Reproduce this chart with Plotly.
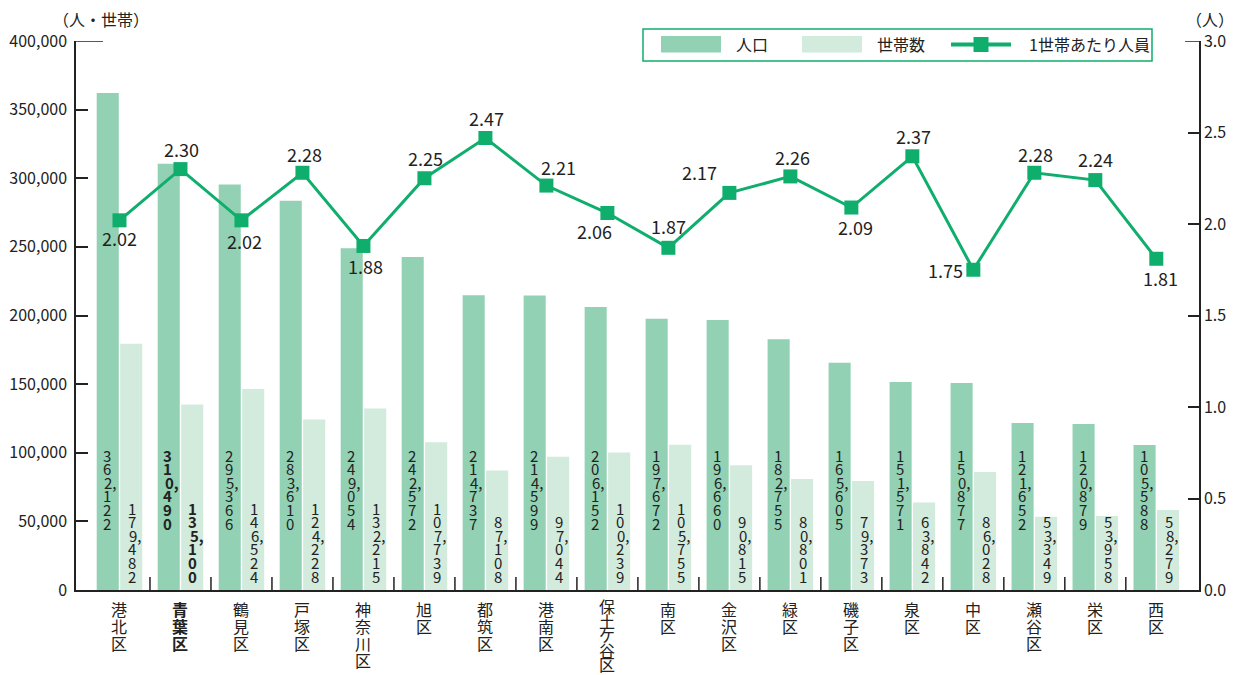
import plotly.graph_objects as go

# ---------------- data ----------------
wards = ["港北区", "青葉区", "鶴見区", "戸塚区", "神奈川区", "旭区", "都筑区", "港南区", "保土ケ谷区",
         "南区", "金沢区", "緑区", "磯子区", "泉区", "中区", "瀬谷区", "栄区", "西区"]
population = [362122, 310490, 295366, 283610, 249054, 242572, 214737, 214599, 206152,
              197672, 196660, 182755, 165605, 151571, 150877, 121652, 120879, 105588]
households = [179482, 135100, 146524, 124228, 132215, 107739, 87108, 97044, 100239,
              105755, 90815, 80801, 79373, 63842, 86028, 53349, 53958, 58279]
persons_per_household = [2.02, 2.30, 2.02, 2.28, 1.88, 2.25, 2.47, 2.21, 2.06,
                         1.87, 2.17, 2.26, 2.09, 2.37, 1.75, 2.28, 2.24, 1.81]
left_ticks = [0, 50000, 100000, 150000, 200000, 250000, 300000, 350000, 400000]
right_ticks = [0.0, 0.5, 1.0, 1.5, 2.0, 2.5, 3.0]
highlight_ward = "青葉区"
series_names = ["人口", "世帯数", "1世帯あたり人員"]
left_unit = "（人・世帯）"
right_unit = "（人）"

# ---------------- style / layout constants ----------------
# The page body adds an 8px margin; the figure is sized/offset to compensate.
PAGE_OFF = 8
SCREEN_W, SCREEN_H = 1242, 675
W, H = SCREEN_W - PAGE_OFF, SCREEN_H - PAGE_OFF
# plot area in screen pixels
PL, PR, PT, PB = 76, 1199, 41, 590
ML, MT = PL - PAGE_OFF, PT - PAGE_OFF
MR, MB = SCREEN_W - PR, SCREEN_H - PB
PW, PH = PR - PL, PB - PT
FONT = "Noto Sans CJK JP"
C_POP = "#92d1b3"
C_HH = "#d2ebdd"
C_LINE = "#0fae6c"
TXT = "#222222"
AX = "#222222"

# label offsets for the ratio labels (dx, dy in px; dy positive = downward)
ratio_label_offsets = [(0, 18), (1, -20), (3, 21), (2, -19), (2, 20), (1, -20), (1, -20),
                       (12, -19), (-13, 18), (0, -22), (-30, -21), (2, -19), (4, 19),
                       (1, -20), (-28, 0), (1, -19), (0, -21), (4, 19)]


def px2x(px):
    return (px - PL) / PW


def py2y(py):
    return (PB - py) / PH


n = len(wards)
idx = list(range(n))

fig = go.Figure()
fig.add_trace(go.Bar(x=idx, y=population, name=series_names[0], marker_color=C_POP,
                     marker_line_width=0, showlegend=False))
fig.add_trace(go.Bar(x=idx, y=households, name=series_names[1], marker_color=C_HH,
                     marker_line_width=0, showlegend=False))
fig.add_trace(go.Scatter(x=idx, y=persons_per_household, yaxis="y2", mode="lines+markers",
                         name=series_names[2], line=dict(color=C_LINE, width=3),
                         marker=dict(symbol="square", size=14, color=C_LINE),
                         showlegend=False))

annotations = []
shapes = []

DIGIT_W = 8.4     # approx advance of a digit at size 15


def add_vertical_number(i, value, xshift, top_py=None, bottom_py=None, bold=False):
    s = f"{value:,}"
    lines = []
    for ch in s:
        if ch == "," and lines:
            lines[-1] = lines[-1] + ","
        else:
            lines.append(ch)
    pitch = 13.6
    if top_py is not None:
        centers = [top_py + 6 + k * pitch for k in range(len(lines))]
    else:
        centers = [bottom_py - 6 - (len(lines) - 1 - k) * pitch for k in range(len(lines))]
    for line, cy in zip(lines, centers):
        txt = f"<b>{line}</b>" if bold else line
        if line.endswith(","):
            annotations.append(dict(x=i, y=0, xref="x", yref="y", text=txt, showarrow=False,
                                    xshift=xshift - DIGIT_W / 2, yshift=PB - cy,
                                    xanchor="left", yanchor="middle", borderpad=0,
                                    font=dict(family=FONT, size=15, color=TXT)))
        else:
            annotations.append(dict(x=i, y=0, xref="x", yref="y", text=txt, showarrow=False,
                                    xshift=xshift, yshift=PB - cy, xanchor="center",
                                    yanchor="middle", borderpad=0,
                                    font=dict(family=FONT, size=15, color=TXT)))


for i, w in enumerate(wards):
    bold = (w == highlight_ward)
    add_vertical_number(i, population[i], -12.5, top_py=449, bold=bold)
    add_vertical_number(i, households[i], 12.5, bottom_py=582, bold=bold)
    # vertical category label
    pitch = 14.5 if len(w) >= 5 else 17
    first = 606 if len(w) >= 5 else 609
    for k, ch in enumerate(w):
        cy = first + k * pitch
        txt = f"<b>{ch}</b>" if bold else ch
        annotations.append(dict(x=i, y=0, xref="x", yref="y", text=txt, showarrow=False,
                                xshift=0, yshift=PB - cy, xanchor="center",
                                yanchor="middle", borderpad=0,
                                font=dict(family=FONT, size=16, color=TXT)))
    # ratio label
    dx, dy = ratio_label_offsets[i]
    annotations.append(dict(x=i, y=persons_per_household[i], xref="x", yref="y2",
                            text=f"{persons_per_household[i]:.2f}", showarrow=False,
                            xshift=dx, yshift=-dy, xanchor="center", yanchor="middle",
                            font=dict(family=FONT, size=18, color=TXT)))

# category boundary ticks (inside, upward)
for i in range(n - 1):
    shapes.append(dict(type="line", xref="x", yref="paper", x0=i + 0.5, x1=i + 0.5,
                       y0=0, y1=13 / PH, line=dict(color=AX, width=1.5)))

# longer top ticks
shapes.append(dict(type="line", xref="paper", yref="y", x0=0, x1=px2x(103),
                   y0=left_ticks[-1], y1=left_ticks[-1], line=dict(color=AX, width=1.5)))
shapes.append(dict(type="line", xref="paper", yref="y2", x0=px2x(1185), x1=1,
                   y0=right_ticks[-1], y1=right_ticks[-1], line=dict(color=AX, width=1.5)))

# manual legend
shapes.append(dict(type="rect", xref="paper", yref="paper", x0=px2x(643), x1=px2x(1152),
                   y0=py2y(61), y1=py2y(29), line=dict(color=C_LINE, width=1.5),
                   fillcolor="white", layer="below"))
shapes.append(dict(type="rect", xref="paper", yref="paper", x0=px2x(661), x1=px2x(721),
                   y0=py2y(52.5), y1=py2y(36), line=dict(width=0), fillcolor=C_POP))
shapes.append(dict(type="rect", xref="paper", yref="paper", x0=px2x(802), x1=px2x(862),
                   y0=py2y(52.5), y1=py2y(36), line=dict(width=0), fillcolor=C_HH))
shapes.append(dict(type="line", xref="paper", yref="paper", x0=px2x(951), x1=px2x(1011),
                   y0=py2y(44.5), y1=py2y(44.5), line=dict(color=C_LINE, width=4)))
shapes.append(dict(type="rect", xref="paper", yref="paper", x0=px2x(973.5), x1=px2x(988.5),
                   y0=py2y(52), y1=py2y(37), line=dict(width=0), fillcolor=C_LINE))
for name, px in zip(series_names, [734, 875, 1027]):
    annotations.append(dict(x=px2x(px), y=py2y(44.5), xref="paper", yref="paper", text=name,
                            showarrow=False, xanchor="left", yanchor="middle",
                            font=dict(family=FONT, size=16, color=TXT)))

# unit labels
annotations.append(dict(x=px2x(101), y=py2y(19), xref="paper", yref="paper", text=left_unit,
                        showarrow=False, xanchor="center", yanchor="middle",
                        font=dict(family=FONT, size=16, color=TXT)))
annotations.append(dict(x=px2x(1210), y=py2y(19), xref="paper", yref="paper", text=right_unit,
                        showarrow=False, xanchor="center", yanchor="middle",
                        font=dict(family=FONT, size=16, color=TXT)))

fig.update_layout(
    width=W, height=H,
    margin=dict(l=ML, r=MR, t=MT, b=MB, pad=0, autoexpand=False),
    plot_bgcolor="white", paper_bgcolor="white",
    barmode="group", bargap=0.23, bargroupgap=0.06,
    showlegend=False,
    font=dict(family=FONT, size=15, color=TXT),
    xaxis=dict(range=[-0.713, n - 1 + 0.70], showticklabels=False, ticks="",
               showline=True, linecolor=AX, linewidth=1.5, showgrid=False,
               zeroline=False, fixedrange=True, automargin=False),
    yaxis=dict(range=[0, 400000], tickvals=left_ticks, tickformat=",", ticks="inside",
               ticklen=12, tickwidth=1.5, tickcolor=AX, showline=True,
               linecolor=AX, linewidth=1.5, showgrid=False, zeroline=False,
               tickfont=dict(family=FONT, size=16, color=TXT), ticklabelstandoff=4,
               automargin=False),
    yaxis2=dict(range=[0, 3.0], tickvals=right_ticks, tickformat=".1f", overlaying="y",
                side="right", ticks="inside", ticklen=11, tickwidth=1.5, tickcolor=AX,
                showline=True, linecolor=AX, linewidth=1.5, showgrid=False,
                zeroline=False, tickfont=dict(family=FONT, size=16, color=TXT),
                automargin=False),
    annotations=annotations,
    shapes=shapes,
)

fig.write_html("out.html")
